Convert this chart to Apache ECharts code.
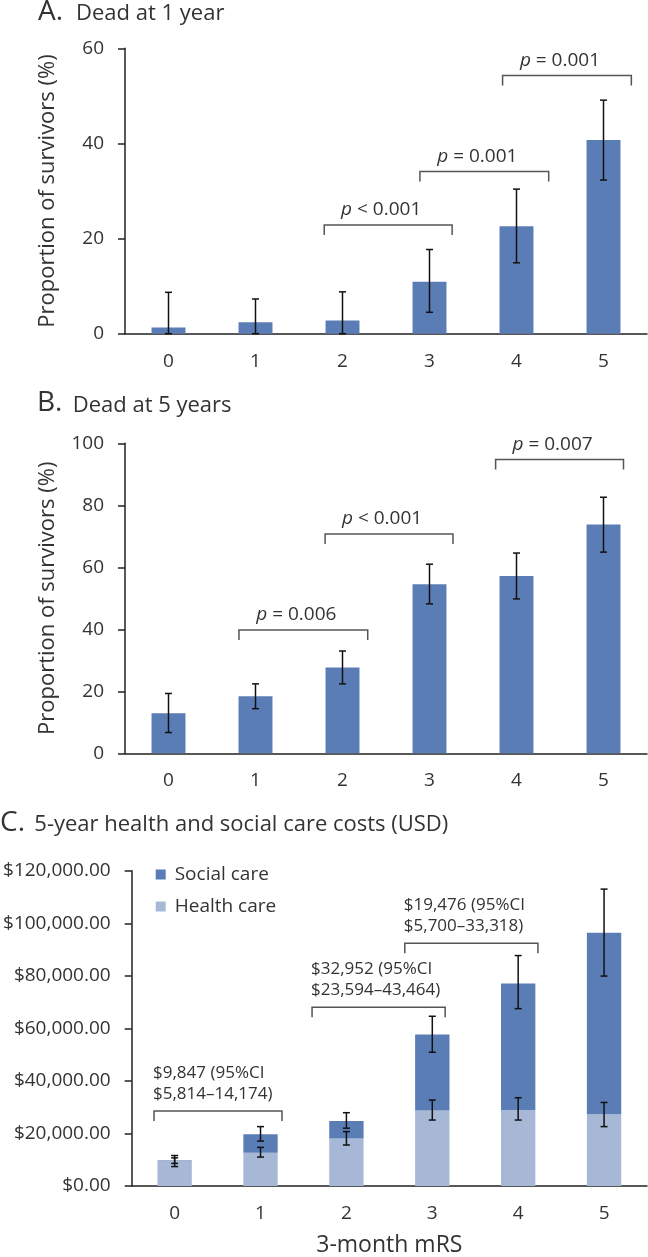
<!DOCTYPE html>
<html><head><meta charset="utf-8">
<script src="https://cdn.jsdelivr.net/npm/echarts@6/dist/echarts.min.js"></script>
<style>html,body{margin:0;padding:0;background:#fff}#c{width:648px;height:1257px}</style>
</head><body><div id="c"></div>
<script>
// ---------- DATA ----------
const categories = ['0', '1', '2', '3', '4', '5'];

// A. Dead at 1 year (%)
const deadAt1Year     = [1.3, 2.4, 2.8, 10.9, 22.6, 40.7];
const deadAt1YearLow  = [0, 0, 0, 4.5, 14.9, 32.3];
const deadAt1YearHigh = [8.7, 7.3, 8.8, 17.7, 30.4, 49.1];
// comparison brackets: [from category pos, to category pos, value level]
const bracketsA = [[1.79, 3.26, 22.85], [2.89, 4.37, 34.1], [3.84, 5.32, 54.3]];
const pLabelsA  = ['< 0.001', '= 0.001', '= 0.001'];

// B. Dead at 5 years (%)
const deadAt5Years     = [12.9, 18.4, 27.7, 54.5, 57.2, 73.8];
const deadAt5YearsLow  = [6.7, 14.4, 22.4, 48.2, 49.8, 64.9];
const deadAt5YearsHigh = [19.3, 22.4, 33.0, 61.0, 64.6, 82.6];
const bracketsB = [[0.81, 2.29, 39.8], [1.80, 3.27, 70.75], [3.76, 5.23, 94.8]];
const pLabelsB  = ['= 0.006', '< 0.001', '= 0.007'];

// C. 5-year costs (USD)
const healthCare     = [9600, 12700, 18100, 28700, 28900, 27300];
const socialCare     = [200, 7000, 6600, 29000, 48200, 69100];
const healthCareLow  = [7400, 11000, 15600, 25100, 25100, 22600];
const healthCareHigh = [10700, 14700, 20700, 32700, 33600, 31800];
const totalLow       = [8600, 17100, 22000, 50900, 67500, 79900];
const totalHigh      = [11600, 22600, 27900, 64600, 87700, 113000];
const bracketsC = [[-0.24, 1.25, 28500], [1.60, 3.15, 68000], [2.68, 4.23, 92350]];
const costLabelsC = ['$9,847 (95%CI\n$5,814\u201314,174)', '$32,952 (95%CI\n$23,594\u201343,464)', '$19,476 (95%CI\n$5,700\u201333,318)'];

// ---------- STYLE ----------
const FONT = '"Open Sans", "Noto Sans", sans-serif';
const TXT = '#333333';
const AXIS = '#222222';
const DARK = '#5b7db6';
const LIGHT = '#a7b8d6';

const chart = echarts.init(document.getElementById('c'), null, { renderer: 'canvas' });

function errorBars(xi, yi, lows, highs) {
  return {
    type: 'custom', xAxisIndex: xi, yAxisIndex: yi, silent: true, z: 5,
    data: categories.map((c, i) => [i, lows[i], highs[i]]),
    encode: { x: 0, y: [1, 2] },
    renderItem(params, api) {
      const x = api.value(0);
      const lo = api.coord([x, api.value(1)]);
      const hi = api.coord([x, api.value(2)]);
      const w = 3.5;
      const st = { stroke: '#111', lineWidth: 1.5 };
      return { type: 'group', children: [
        { type: 'line', shape: { x1: lo[0], y1: lo[1], x2: hi[0], y2: hi[1] }, style: st },
        { type: 'line', shape: { x1: lo[0] - w, y1: lo[1], x2: lo[0] + w, y2: lo[1] }, style: st },
        { type: 'line', shape: { x1: hi[0] - w, y1: hi[1], x2: hi[0] + w, y2: hi[1] }, style: st }
      ]};
    }
  };
}

function brackets(xi, yi, list, textFn) {
  return {
    type: 'custom', xAxisIndex: xi, yAxisIndex: yi, silent: true, z: 6,
    data: list.map(b => [b[0], b[1], b[2]]),
    encode: { x: [0, 1], y: 2 },
    renderItem(params, api) {
      const a = api.coord([api.value(0), api.value(2)]);
      const b = api.coord([api.value(1), api.value(2)]);
      const drop = 10;
      return { type: 'group', children: [
        { type: 'polyline', shape: { points: [[a[0], a[1] + drop], [a[0], a[1]], [b[0], b[1]], [b[0], b[1] + drop]] },
          style: { stroke: '#555', lineWidth: 1.5, fill: null } },
        textFn(params.dataIndex, a, b)
      ]};
    }
  };
}

function pText(labels) {
  return (i, a, b) => ({
    type: 'text', x: (a[0] + b[0]) / 2 - 7, y: a[1] - 15,
    style: {
      text: '{i|p} ' + labels[i], fill: TXT, fontSize: 19, fontFamily: FONT,
      align: 'center', verticalAlign: 'middle',
      rich: { i: { fontStyle: 'italic', fontSize: 19, fontFamily: FONT, fill: TXT } }
    }
  });
}

function costText(i, a, b) {
  return {
    type: 'text', x: a[0] - 1, y: a[1] - 6,
    style: { text: costLabelsC[i], fill: TXT, fontSize: 17, fontFamily: FONT, lineHeight: 21.5,
      align: 'left', verticalAlign: 'bottom' }
  };
}

const axisLineStyle = { color: AXIS, width: 1.5 };
function catAxis(g, extra) {
  return Object.assign({
    type: 'category', gridIndex: g, data: categories,
    axisLine: { onZero: false, lineStyle: axisLineStyle },
    axisTick: { length: 7, lineStyle: axisLineStyle },
    axisLabel: { fontSize: 19, color: TXT, fontFamily: FONT, margin: 18 }
  }, extra || {});
}
function hiddenX(g) { return { type: 'value', gridIndex: g, min: -0.5, max: 5.5, show: false, axisLine: { onZero: false } }; }
function valAxis(g, max, interval, extra) {
  return Object.assign({
    type: 'value', gridIndex: g, min: 0, max: max, interval: interval,
    axisLine: { show: true, onZero: false, lineStyle: axisLineStyle },
    axisTick: { show: true, length: 7, lineStyle: axisLineStyle },
    splitLine: { show: false },
    axisLabel: { fontSize: 19, color: TXT, fontFamily: FONT, margin: 21 }
  }, extra || {});
}
const yName = {
  name: 'Proportion of survivors (%)', nameLocation: 'middle', nameGap: 66,
  nameTextStyle: { fontSize: 22, color: TXT, fontFamily: FONT }
};

function titleText(x, y, size, text) {
  return { type: 'text', x: x, y: y, style: { text: text, fontSize: size, fontFamily: FONT, fill: TXT, verticalAlign: 'middle' } };
}

const option = {
  animation: false,
  backgroundColor: '#fff',
  textStyle: { fontFamily: FONT },
  grid: [
    { left: 125, top: 48.3, width: 522, height: 285.4, containLabel: false, outerBoundsMode: 'none' },
    { left: 125, top: 443.3, width: 522, height: 310, containLabel: false, outerBoundsMode: 'none' },
    { left: 131.7, top: 870.7, width: 515.3, height: 315.3, containLabel: false, outerBoundsMode: 'none' }
  ],
  xAxis: [
    catAxis(0), hiddenX(0),
    catAxis(1), hiddenX(1),
    catAxis(2, { name: '3-month mRS', nameLocation: 'middle', nameGap: 48,
      nameTextStyle: { fontSize: 23, color: TXT, fontFamily: FONT } }), hiddenX(2)
  ],
  yAxis: [
    valAxis(0, 60, 20, yName),
    valAxis(1, 100, 20, yName),
    valAxis(2, 120000, 20000, { axisLabel: { fontSize: 19, color: TXT, fontFamily: FONT, margin: 21,
      formatter: v => '$' + v.toLocaleString('en-US', { minimumFractionDigits: 2, maximumFractionDigits: 2 }) } })
  ],
  legend: {
    data: ['Social care', 'Health care'], orient: 'vertical', left: 155.7, top: 865, padding: 0,
    icon: 'rect', itemWidth: 10, itemHeight: 10, itemGap: 13,
    textStyle: { fontSize: 19, color: TXT, fontFamily: FONT, padding: [0, 0, 0, 4] }
  },
  graphic: [
    titleText(38, 11.9, 28, 'A.'), titleText(76, 14, 22, 'Dead at 1 year'),
    titleText(37, 403.5, 28, 'B.'), titleText(72.7, 405.6, 22, 'Dead at 5 years'),
    titleText(0, 822.9, 28, 'C.'), titleText(34.3, 825, 22, '5-year health and social care costs (USD)')
  ],
  series: [
    { type: 'bar', xAxisIndex: 0, yAxisIndex: 0, data: deadAt1Year, barWidth: '39%', itemStyle: { color: DARK } },
    errorBars(0, 0, deadAt1YearLow, deadAt1YearHigh),
    brackets(1, 0, bracketsA, pText(pLabelsA)),

    { type: 'bar', xAxisIndex: 2, yAxisIndex: 1, data: deadAt5Years, barWidth: '39%', itemStyle: { color: DARK } },
    errorBars(2, 1, deadAt5YearsLow, deadAt5YearsHigh),
    brackets(3, 1, bracketsB, pText(pLabelsB)),

    { name: 'Health care', type: 'bar', stack: 'cost', xAxisIndex: 4, yAxisIndex: 2, data: healthCare, barWidth: '40%', itemStyle: { color: LIGHT } },
    { name: 'Social care', type: 'bar', stack: 'cost', xAxisIndex: 4, yAxisIndex: 2, data: socialCare, barWidth: '40%', itemStyle: { color: DARK } },
    errorBars(4, 2, healthCareLow, healthCareHigh),
    errorBars(4, 2, totalLow, totalHigh),
    brackets(5, 2, bracketsC, costText)
  ]
};
chart.setOption(option);
</script>
</body></html>
